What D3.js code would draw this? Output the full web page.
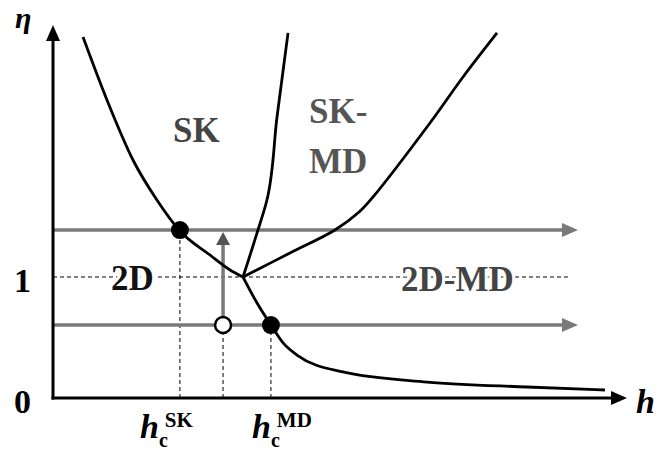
<!DOCTYPE html>
<html>
<head>
<meta charset="utf-8">
<script src="https://cdn.jsdelivr.net/npm/d3@7"></script>
<style>
  body { margin: 0; background: #fff; }
  text { font-family: "Liberation Serif", "DejaVu Serif", serif; font-weight: bold; }
</style>
</head>
<body>
<svg id="chart" width="658" height="453"></svg>
<script>
// phase boundaries, [h, eta]
var boundarySK2D = [[0.158, 2.983], [0.284, 2.463], [0.421, 1.967], [0.547, 1.636], [0.668, 1.380],
    [0.826, 1.182], [0.932, 1.058], [1.0, 1.0]];
var boundary2DMD = [[1.0, 1.0], [1.074, 0.785], [1.147, 0.603], [1.211, 0.455], [1.284, 0.355],
    [1.526, 0.215], [1.968, 0.132], [2.495, 0.091], [2.905, 0.066]];
var boundarySK = [[1.0, 1.0], [1.074, 1.364], [1.126, 1.636], [1.179, 2.322], [1.237, 3.017]];
var boundaryMD = [[1.0, 1.0], [1.247, 1.198], [1.484, 1.388], [1.611, 1.537], [1.684, 1.661],
    [1.984, 2.273], [2.158, 2.653], [2.337, 3.017]];

// sweeps at constant eta and the transition points
var sweepEta = [1.388, 0.603];
var sweepEnd = 2.763;
var criticalH = [0.668, 0.895, 1.147];
var pointsFilled = [[0.668, 1.388], [1.147, 0.603]];
var pointOpen = [0.895, 0.603];
var verticalArrow = [[0.895, 0.603], [0.895, 1.372]];
var etaTicks = [0, 1];
var dashedEnd = 2.71;

var svg = d3.select("#chart");
var x = d3.scaleLinear().domain([0, 1]).range([53, 243]);
var y = d3.scaleLinear().domain([0, 1]).range([398, 277]);
function lineWith(curve) {
    return d3.line().x(function (d) { return x(d[0]); }).y(function (d) { return y(d[1]); }).curve(curve);
}

var gray = "#7a7a7a";

function arrowHead(tx, ty, dir, len, half, color) {
    var pts;
    if (dir == "right") pts = [[tx, ty], [tx - len, ty - half], [tx - len, ty + half]];
    else pts = [[tx, ty], [tx - half, ty + len], [tx + half, ty + len]];
    svg.append("polygon").attr("points", pts.map(function (p) { return p.join(","); }).join(" "))
        .attr("fill", color);
}

// eta = 1 dashed line
svg.append("line")
    .attr("x1", x(0)).attr("x2", x(dashedEnd))
    .attr("y1", y(1)).attr("y2", y(1))
    .attr("stroke", "#000").attr("stroke-width", 1).attr("stroke-dasharray", "4,3");

// dashed drops to h axis
svg.selectAll(".drop").data(criticalH).enter().append("line")
    .attr("x1", function (d) { return x(d); }).attr("x2", function (d) { return x(d); })
    .attr("y1", y(0)).attr("y2", function (d, i) { return i == 0 ? y(sweepEta[0]) : y(sweepEta[1]); })
    .attr("stroke", "#000").attr("stroke-width", 1).attr("stroke-dasharray", "4,3");

// horizontal gray sweeps
sweepEta.forEach(function (e) {
    svg.append("line").attr("x1", x(0)).attr("x2", x(sweepEnd) - 12)
        .attr("y1", y(e)).attr("y2", y(e))
        .attr("stroke", gray).attr("stroke-width", 3.5);
    arrowHead(x(sweepEnd), y(e), "right", 16, 7, gray);
});

// vertical gray arrow
svg.append("line")
    .attr("x1", x(verticalArrow[0][0])).attr("x2", x(verticalArrow[1][0]))
    .attr("y1", y(verticalArrow[0][1])).attr("y2", y(verticalArrow[1][1]) + 10)
    .attr("stroke", gray).attr("stroke-width", 3.5);
arrowHead(x(verticalArrow[1][0]), y(verticalArrow[1][1]), "up", 13, 7, "#555");

// boundaries
[boundarySK2D, boundary2DMD].forEach(function (b) {
    svg.append("path").datum(b).attr("d", lineWith(d3.curveMonotoneX))
        .attr("fill", "none").attr("stroke", "#000").attr("stroke-width", 2.8)
        .attr("stroke-linejoin", "round");
});
svg.append("path").datum(boundaryMD).attr("d", lineWith(d3.curveCatmullRom.alpha(0.5)))
    .attr("fill", "none").attr("stroke", "#000").attr("stroke-width", 2.8);
svg.append("path").datum(boundarySK).attr("d", lineWith(d3.curveMonotoneY))
    .attr("fill", "none").attr("stroke", "#000").attr("stroke-width", 2.8);

// axes
svg.append("line").attr("x1", x(0)).attr("x2", x(0)).attr("y1", y(0) + 1.5).attr("y2", 40)
    .attr("stroke", "#000").attr("stroke-width", 3);
arrowHead(x(0), 25, "up", 16, 7, "#000");
svg.append("line").attr("x1", x(0) - 1.5).attr("x2", 612).attr("y1", y(0)).attr("y2", y(0))
    .attr("stroke", "#000").attr("stroke-width", 3);
arrowHead(627, y(0), "right", 16, 7, "#000");

var yAxis = svg.append("g").attr("transform", "translate(" + x(0) + ",0)")
    .call(d3.axisLeft(y).tickValues(etaTicks).tickSize(0).tickPadding(22).tickFormat(d3.format("d")));
yAxis.select(".domain").remove();
yAxis.selectAll("text").attr("font-size", 34).attr("font-family", "Liberation Serif")
    .attr("font-weight", "bold").attr("fill", "#000").attr("dy", "0.42em");

// points
svg.selectAll(".pt").data(pointsFilled).enter().append("circle")
    .attr("cx", function (d) { return x(d[0]); }).attr("cy", function (d) { return y(d[1]); })
    .attr("r", 9).attr("fill", "#000");
svg.append("circle").attr("cx", x(pointOpen[0])).attr("cy", y(pointOpen[1]))
    .attr("r", 8).attr("fill", "#fff").attr("stroke", "#000").attr("stroke-width", 2.5);

// region labels
function label(t, px, py, color) {
    svg.append("text").attr("x", px).attr("y", py).text(t)
        .attr("font-size", 35).attr("fill", color)
        .attr("stroke", "#fff").attr("stroke-width", 6).attr("paint-order", "stroke");
}
label("SK", 173, 142, "#444");
label("SK-", 309, 123, "#555");
label("MD", 309, 173, "#555");
label("2D", 111, 290, "#111");
label("2D-MD", 401, 291, "#444");

// axis titles
svg.append("text").attr("x", 15).attr("y", 28).text("η")
    .attr("font-size", 30).attr("font-style", "italic").attr("fill", "#000");
svg.append("text").attr("x", 636).attr("y", 413).text("h")
    .attr("font-size", 34).attr("font-style", "italic").attr("fill", "#000");

function hc(px, sup) {
    var t = svg.append("text").attr("x", px).attr("y", 438).attr("fill", "#000");
    t.append("tspan").text("h").attr("font-size", 34).attr("font-style", "italic");
    t.append("tspan").text("c").attr("font-size", 20).attr("dy", 9);
    t.append("tspan").text(sup).attr("font-size", 21).attr("dx", -3).attr("dy", -20);
}
hc(140, "SK");
hc(252, "MD");
</script>
</body>
</html>
